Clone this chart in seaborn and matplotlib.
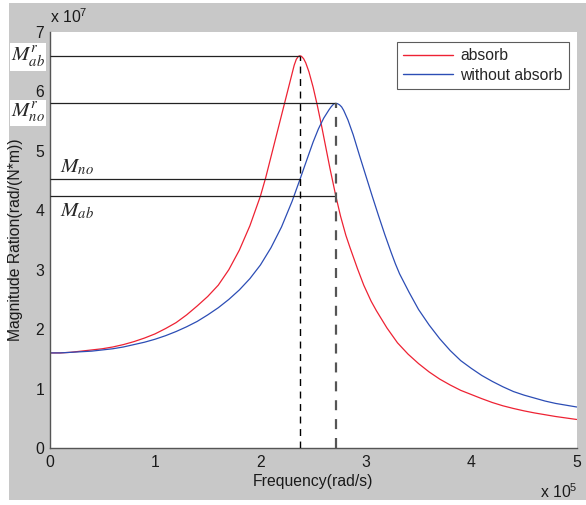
import numpy as np
import pandas as pd
import seaborn as sns
import matplotlib
matplotlib.use("Agg")
import matplotlib.pyplot as plt
from matplotlib.patches import Rectangle

# Frequency in units of 1e5 rad/s, magnitude in units of 1e7 rad/(N*m)
freq_absorb = [0.0, 0.1, 0.2, 0.3, 0.4, 0.5, 0.6, 0.7, 0.8, 0.9, 1.0, 1.1, 1.2,
               1.3, 1.4, 1.5, 1.6, 1.7, 1.8, 1.9, 2.0, 2.05, 2.1, 2.15, 2.2,
               2.25, 2.3, 2.32, 2.34, 2.36, 2.375, 2.39, 2.41, 2.43, 2.46, 2.5,
               2.54, 2.58, 2.62, 2.66, 2.715, 2.76, 2.81, 2.85, 2.92, 2.98,
               3.05, 3.1, 3.2, 3.3, 3.4, 3.5, 3.6, 3.7, 3.8, 3.9, 4.0, 4.1,
               4.2, 4.3, 4.4, 4.5, 4.6, 4.7, 4.8, 4.9, 5.0]
mag_absorb = [1.60, 1.60, 1.61, 1.63, 1.65, 1.67, 1.70, 1.74, 1.79, 1.85, 1.92,
              2.01, 2.11, 2.24, 2.39, 2.55, 2.74, 3.00, 3.33, 3.74, 4.24, 4.55,
              4.90, 5.25, 5.60, 5.95, 6.30, 6.44, 6.54, 6.59, 6.60, 6.59, 6.55,
              6.48, 6.33, 6.07, 5.76, 5.42, 5.06, 4.70, 4.24, 3.90, 3.58, 3.37,
              3.02, 2.74, 2.47, 2.31, 2.02, 1.77, 1.58, 1.42, 1.28, 1.16, 1.06,
              0.97, 0.90, 0.83, 0.765, 0.71, 0.665, 0.625, 0.59, 0.56, 0.53,
              0.505, 0.48]

freq_without = [0.0, 0.1, 0.2, 0.3, 0.4, 0.5, 0.6, 0.7, 0.8, 0.9, 1.0, 1.1, 1.2,
                1.3, 1.4, 1.5, 1.6, 1.7, 1.8, 1.9, 2.0, 2.1, 2.2, 2.3, 2.375,
                2.45, 2.5, 2.55, 2.6, 2.65, 2.67, 2.69, 2.70, 2.715, 2.73, 2.75,
                2.77, 2.79, 2.83, 2.88, 2.94, 3.0, 3.06, 3.12, 3.18, 3.24, 3.28,
                3.32, 3.41, 3.5, 3.6, 3.7, 3.8, 3.9, 4.0, 4.1, 4.2, 4.3, 4.4,
                4.5, 4.6, 4.7, 4.8, 4.9, 5.0]
mag_without = [1.60, 1.60, 1.61, 1.62, 1.63, 1.65, 1.67, 1.70, 1.74, 1.78, 1.83,
               1.89, 1.96, 2.04, 2.13, 2.24, 2.36, 2.50, 2.66, 2.85, 3.08, 3.37,
               3.72, 4.15, 4.52, 4.90, 5.15, 5.37, 5.55, 5.69, 5.74, 5.78, 5.794,
               5.80, 5.795, 5.775, 5.74, 5.68, 5.52, 5.27, 4.92, 4.58, 4.24,
               3.91, 3.59, 3.29, 3.10, 2.93, 2.62, 2.33, 2.07, 1.84, 1.64, 1.47,
               1.34, 1.22, 1.12, 1.03, 0.95, 0.89, 0.84, 0.79, 0.75, 0.72, 0.69]

series_names = ["absorb", "without absorb"]
x_ticks = [0, 1, 2, 3, 4, 5]
y_ticks = [0, 1, 2, 3, 4, 5, 6, 7]

sns.set_theme(style="white")
plt.rcParams["font.family"] = ["Liberation Sans", "DejaVu Sans"]
plt.rcParams["mathtext.fontset"] = "custom"
plt.rcParams["mathtext.rm"] = "Liberation Sans"
plt.rcParams["mathtext.it"] = "Liberation Sans:italic"

FS = 11.3
MFS = 15
TXT = "#1a1a1a"

df = pd.concat([
    pd.DataFrame({"freq": freq_absorb, "mag": mag_absorb, "series": series_names[0]}),
    pd.DataFrame({"freq": freq_without, "mag": mag_without, "series": series_names[1]}),
], ignore_index=True)

W, H = 586, 505
fig = plt.figure(figsize=(W / 100, H / 100), dpi=100, facecolor="white")
fig.patches.append(Rectangle((9 / W, 5 / H), 1, 1 - 5 / H - 3 / H,
                             transform=fig.transFigure, facecolor="#c8c8c8",
                             edgecolor="none", zorder=-10))

ax = fig.add_axes([49.6 / W, (H - 448) / H, (576.7 - 49.6) / W, 416 / H])
ax.set_facecolor("white")

palette = {series_names[0]: "#ee2233", series_names[1]: "#2c4db5"}
sns.lineplot(data=df, x="freq", y="mag", hue="series", palette=palette,
             linewidth=0.9, sort=False, estimator=None, ax=ax)
handles, labels = ax.get_legend_handles_labels()

# Resonance peaks and cross values
fa, ma = np.array(freq_absorb), np.array(mag_absorb)
fw, mw = np.array(freq_without), np.array(mag_without)
f_r_ab, M_r_ab = fa[np.argmax(ma)], ma.max()
f_r_no, M_r_no = fw[np.argmax(mw)], mw.max()
M_no = np.interp(f_r_ab, fw, mw)
M_ab = np.interp(f_r_no, fa, ma)

ax.hlines([M_r_ab, M_r_no, M_no, M_ab], 0, [f_r_ab, f_r_no, f_r_ab, f_r_no],
          colors="#222222", linewidth=0.9, zorder=3)
ax.plot([f_r_ab, f_r_ab], [0, M_r_ab], color="black", linewidth=1.0,
        linestyle=(0, (5, 4)), zorder=3)
ax.plot([f_r_no, f_r_no], [0, M_r_no], color="#555555", linewidth=1.6,
        linestyle=(0, (4.5, 4)), zorder=3)

ax.set_xlim(0, 5)
ax.set_ylim(0, 7)
ax.set_xticks(x_ticks)
ax.set_yticks(y_ticks)
ax.set_xticklabels([str(t) for t in x_ticks])
ax.set_yticklabels([str(t) for t in y_ticks])
ax.tick_params(direction="in", length=4, width=0.8, color="#444444",
               labelsize=FS, labelcolor=TXT)
ax.tick_params(axis="x", pad=5)
ax.tick_params(axis="y", pad=4)
for side in ("top", "right"):
    ax.spines[side].set_visible(False)
for side in ("left", "bottom"):
    ax.spines[side].set_color("#555555")
    ax.spines[side].set_linewidth(1.0)

ax.set_xlabel("Frequency(rad/s)", fontsize=FS, color=TXT)
ax.set_ylabel("Magnitude Ration(rad/(N*m))", fontsize=FS, color=TXT)
ax.xaxis.set_label_coords(0.5, -0.063)
ax.yaxis.set_label_coords(-0.05, 0.5)

leg = ax.legend(handles, labels, loc="upper left", bbox_to_anchor=(0.659, 0.976),
                fontsize=FS, frameon=True, fancybox=False, edgecolor="#333333",
                handlelength=3.2, borderpad=0.4, labelspacing=0.3,
                handletextpad=0.45, borderaxespad=0)
leg.get_frame().set_linewidth(0.8)
for line in leg.get_lines():
    line.set_linewidth(1.0)

# Exponent labels
fig.text(50 / W, 1 - 23 / H, r"x 10$^{7}$", fontsize=FS, color=TXT,
         ha="left", va="baseline")
fig.text(540 / W, 1 - 498 / H, r"x 10$^{5}$", fontsize=FS, color=TXT,
         ha="left", va="baseline")

# Peak and cross-value annotations
box = dict(boxstyle="square,pad=0.06", facecolor="white", edgecolor="none")
fig.text(28 / W, 1 - 57 / H, r"$M^{r}_{ab}$", fontsize=MFS, math_fontfamily="stix",
         ha="center", va="center", bbox=box)
fig.text(28 / W, 1 - 113 / H, r"$M^{r}_{no}$", fontsize=MFS, math_fontfamily="stix",
         ha="center", va="center", bbox=box)
fig.text(60 / W, 1 - 167 / H, r"$M_{no}$", fontsize=MFS, math_fontfamily="stix",
         ha="left", va="center")
fig.text(60 / W, 1 - 211 / H, r"$M_{ab}$", fontsize=MFS, math_fontfamily="stix",
         ha="left", va="center")

fig.savefig("out.png", dpi=100, facecolor=fig.get_facecolor())
